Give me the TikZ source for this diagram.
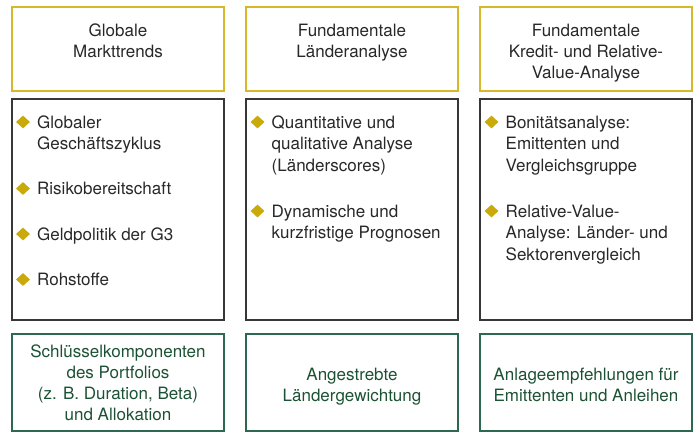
\documentclass[tikz,border=0pt]{standalone}
\usepackage{fontspec}
\setmainfont{TeX Gyre Heros}
\usetikzlibrary{shapes.geometric}
\definecolor{goldline}{RGB}{214,184,42}
\definecolor{goldbullet}{RGB}{202,170,10}
\definecolor{greyline}{RGB}{55,55,55}
\definecolor{greenline}{RGB}{45,105,80}
\definecolor{greentext}{RGB}{28,82,52}
\definecolor{bodytext}{RGB}{40,40,40}
\tikzset{
  colbox/.style={rectangle, inner sep=0pt, line width=1.1pt, minimum width=212pt},
  headbox/.style={colbox, draw=goldline, minimum height=84pt},
  listbox/.style={colbox, draw=greyline, minimum height=221pt},
  resultbox/.style={colbox, draw=greenline, minimum height=97pt},
  headtext/.style={text=bodytext, font=\fontsize{17}{21}\selectfont, align=center, anchor=base, inner sep=0pt},
  itemtext/.style={text=bodytext, font=\fontsize{17}{21.8}\selectfont, align=left, anchor=base west, inner sep=0pt},
  restext/.style={text=greentext, font=\fontsize{17}{21}\selectfont, align=center, anchor=base, inner sep=0pt},
  bullet/.style={diamond, fill=goldbullet, inner sep=0pt, minimum width=14pt, minimum height=13pt}
}
\begin{document}
\begin{tikzpicture}[x=1pt,y=-1pt]
\useasboundingbox (0,0) rectangle (695,432);
% boxes
\node[headbox] (h1) at (118,49) {};
\node[headbox] (h2) at (352,49) {};
\node[headbox] (h3) at (586,49) {};
\node[listbox] (l1) at (118,209.5) {};
\node[listbox] (l2) at (352,209.5) {};
\node[listbox] (l3) at (586,209.5) {};
\node[resultbox] (p1) at (118,382.5) {};
\node[resultbox] (p2) at (352,382.5) {};
\node[resultbox] (p3) at (586,382.5) {};
% header texts (anchor = baseline of last line)
\node[headtext] (t1) at (118,57) {Globale\\Markttrends};
\node[headtext] (t2) at (352,57) {Fundamentale\\Länderanalyse};
\node[headtext] (t3) at (586,78) {Fundamentale\\Kredit- und Relative-\\Value-Analyse};
% column 1 items
\node[bullet] (b11) at (23,122) {};
\node[itemtext] (i11) at (37,149.8) {Globaler\\Geschäftszyklus};
\node[bullet] (b12) at (23,188.5) {};
\node[itemtext] (i12) at (37,194.5) {Risikobereitschaft};
\node[bullet] (b13) at (23,234) {};
\node[itemtext] (i13) at (37,240) {Geldpolitik der G3};
\node[bullet] (b14) at (23,279.5) {};
\node[itemtext] (i14) at (37,285.5) {Rohstoffe};
% column 2 items
\node[bullet] (b21) at (257.5,122) {};
\node[itemtext] (i21) at (271.5,171.6) {Quantitative und\\qualitative Analyse\\(Länderscores)};
\node[bullet] (b22) at (257.5,211) {};
\node[itemtext] (i22) at (271.5,238.8) {Dynamische und\\kurzfristige Prognosen};
% column 3 items
\node[bullet] (b31) at (491.5,122) {};
\node[itemtext] (i31) at (505.5,171.6) {Bonitätsanalyse:\\Emittenten und\\Vergleichsgruppe};
\node[bullet] (b32) at (491.5,211) {};
\node[itemtext] (i32) at (505.5,260.6) {Relative-Value-\\Analyse: Länder- und\\Sektorenvergleich};
% result texts
\node[restext] (r1) at (118,420) {Schlüsselkomponenten\\des Portfolios\\(z. B. Duration, Beta)\\und Allokation};
\node[restext] (r2) at (352,401) {Angestrebte\\Ländergewichtung};
\node[restext] (r3) at (586,401) {Anlageempfehlungen für\\Emittenten und Anleihen};
\end{tikzpicture}
\end{document}
